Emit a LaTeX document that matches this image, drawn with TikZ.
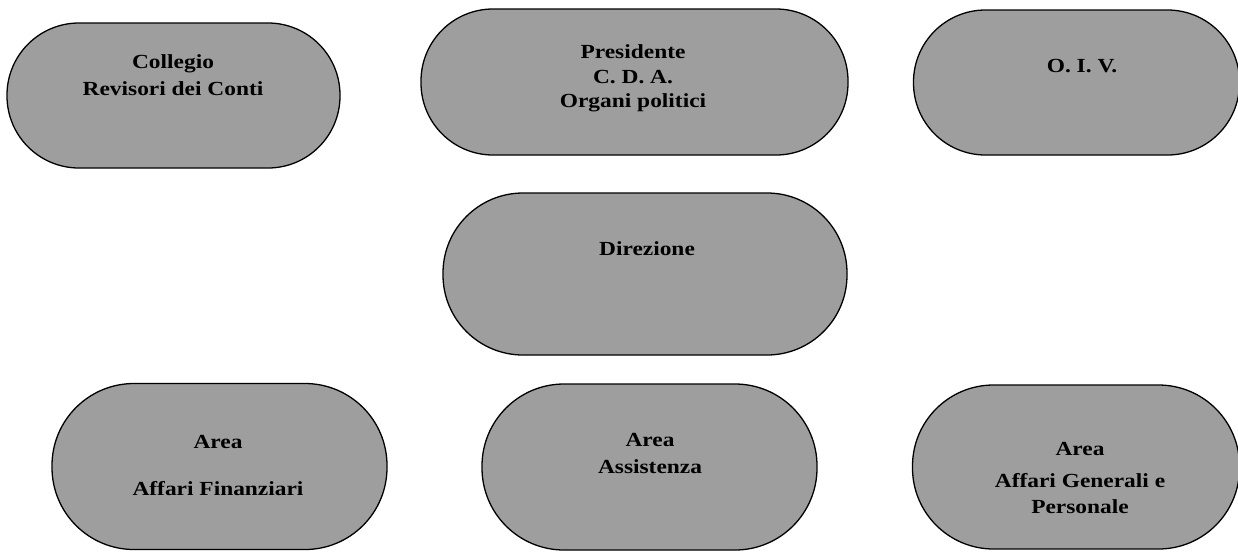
\documentclass[tikz,border=0pt]{standalone}
\usepackage{fontspec}
\setmainfont{Liberation Serif}[FakeStretch=1.17]
\begin{document}
\begin{tikzpicture}[x=1pt,y=-1pt,
  stadium/.style={draw=black, line width=1.3pt, fill=black!38, rectangle,
    inner sep=0pt, minimum width=#1},
  lbl/.style={anchor=base, inner sep=0pt, font=\fontsize{20}{24}\selectfont\bfseries}]
\useasboundingbox (0,0) rectangle (1238,552);
% shapes
\node[stadium=333pt, minimum height=145pt, rounded corners=72pt] (n1) at (173.5,95.5) {};
\node[stadium=427pt, minimum height=146pt, rounded corners=72pt] (n2) at (634.5,82) {};
\node[stadium=326pt, minimum height=145pt, rounded corners=72pt] (n3) at (1076.5,82.5) {};
\node[stadium=404pt, minimum height=162pt, rounded corners=80pt] (n4) at (645,274) {};
\node[stadium=335pt, minimum height=166pt, rounded corners=82pt] (n5) at (219.5,466.5) {};
\node[stadium=335pt, minimum height=166pt, rounded corners=82pt] (n6) at (649.5,467) {};
\node[stadium=327pt, minimum height=164pt, rounded corners=81pt] (n7) at (1076,467) {};
% labels
\node[lbl] (t1a) at (173,68) {Collegio};
\node[lbl] (t1b) at (173,95) {Revisori dei Conti};
\node[lbl] (t2a) at (633,58) {Presidente};
\node[lbl] (t2b) at (633,83) {C. D. A.};
\node[lbl] (t2c) at (633,107) {Organi politici};
\node[lbl] (t3a) at (1082,72) {O. I. V.};
\node[lbl] (t4a) at (647,255) {Direzione};
\node[lbl] (t5a) at (218,448) {Area};
\node[lbl] (t5b) at (218,495) {Affari Finanziari};
\node[lbl] (t6a) at (650,446) {Area};
\node[lbl] (t6b) at (650,473) {Assistenza};
\node[lbl] (t7a) at (1080,455) {Area};
\node[lbl] (t7b) at (1080,487) {Affari Generali e};
\node[lbl] (t7c) at (1080,513) {Personale};
\end{tikzpicture}
\end{document}
